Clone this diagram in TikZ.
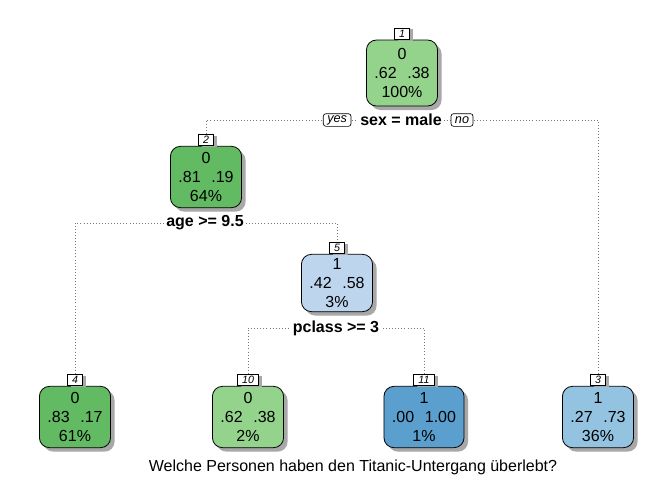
\documentclass[tikz,border=0pt]{standalone}
\usepackage{fontspec}
\setmainfont{Liberation Sans}
\usetikzlibrary{shadows}
\pgfdeclarelayer{bg}
\pgfsetlayers{bg,main}
\definecolor{lgreen}{HTML}{94D38B}
\definecolor{dgreen}{HTML}{62BB62}
\definecolor{lblue}{HTML}{BED5EE}
\definecolor{mblue}{HTML}{93C3E0}
\definecolor{dblue}{HTML}{5B9FCE}
\definecolor{shad}{HTML}{A8A8A8}
\definecolor{conncol}{HTML}{777777}
\tikzset{
  treebox/.style={draw=black, line width=0.6pt, rounded corners=7.5pt,
    align=center, font=\fontsize{12}{14}\selectfont,
    inner xsep=6pt, inner ysep=2pt, minimum width=51pt, minimum height=46pt,
    drop shadow={shadow xshift=3pt, shadow yshift=-3pt, fill=shad, opacity=1}},
  idlab/.style={draw=black, line width=0.5pt, fill=white, anchor=south,
    font=\fontsize{8}{9}\selectfont\itshape, inner xsep=3.5pt, inner ysep=0.5pt,
    minimum height=8.5pt,
    drop shadow={shadow xshift=2.5pt, shadow yshift=-1pt, fill=shad, opacity=1}},
  splitlab/.style={fill=white, font=\fontsize{12}{13}\selectfont\bfseries, inner xsep=1.5pt, inner ysep=1pt},
  ynlab/.style={draw=black, line width=0.5pt, fill=white, rounded corners=2pt,
    font=\fontsize{9.5}{10}\selectfont\itshape, inner xsep=3pt, inner ysep=0.5pt,
    minimum height=9.5pt},
  conn/.style={draw=conncol, line width=0.7pt, dash pattern=on 0.7pt off 1.6pt}
}
\newcommand{\pr}[2]{#1\hspace{8pt}#2}
\begin{document}
\begin{tikzpicture}[x=0.75pt,y=-0.75pt]
\useasboundingbox (0,0) rectangle (672,480);
% nodes
\node[treebox, fill=lgreen, minimum height=49.5pt] (n1) at (402,73) {0\\\pr{.62}{.38}\\100\%};
\node[treebox, fill=dgreen, minimum height=46pt] (n2) at (206,177) {0\\\pr{.81}{.19}\\64\%};
\node[treebox, fill=lblue, minimum height=43pt] (n5) at (337,283) {1\\\pr{.42}{.58}\\3\%};
\node[treebox, fill=dgreen] (n4) at (75,417) {0\\\pr{.83}{.17}\\61\%};
\node[treebox, fill=lgreen] (n10) at (248,417) {0\\\pr{.62}{.38}\\2\%};
\node[treebox, fill=dblue] (n11) at (424,417) {1\\\pr{.00}{1.00}\\1\%};
\node[treebox, fill=mblue] (n3) at (598,417) {1\\\pr{.27}{.73}\\36\%};
% id labels
\node[idlab] (l1) at (n1.north) {1};
\node[idlab] (l2) at (n2.north) {2};
\node[idlab] (l5) at (n5.north) {5};
\node[idlab] (l4) at (n4.north) {4};
\node[idlab] (l10) at (n10.north) {10};
\node[idlab] (l11) at (n11.north) {11};
\node[idlab] (l3) at (n3.north) {3};
% split labels
\node[splitlab] (s1) at (401,120) {sex = male};
\node[ynlab, anchor=east] (yes1) at ([xshift=-5pt]s1.west) {yes};
\node[ynlab, anchor=west] (no1) at ([xshift=5pt]s1.east) {no};
\node[splitlab] (s2) at (205,223) {age >= 9.5};
\node[splitlab] (s5) at (336,328) {pclass >= 3};
% title
\node[font=\fontsize{12}{13}\selectfont] (title) at (353,467) {Welche Personen haben den Titanic-Untergang überlebt?};
% connectors
\begin{pgfonlayer}{bg}
\draw[conn] (l2.north) |- (s1.center) -| (l3.north);
\draw[conn] (l4.north) |- (s2.center) -| (l5.north);
\draw[conn] (l10.north) |- (s5.center) -| (l11.north);
\end{pgfonlayer}
\end{tikzpicture}
\end{document}
